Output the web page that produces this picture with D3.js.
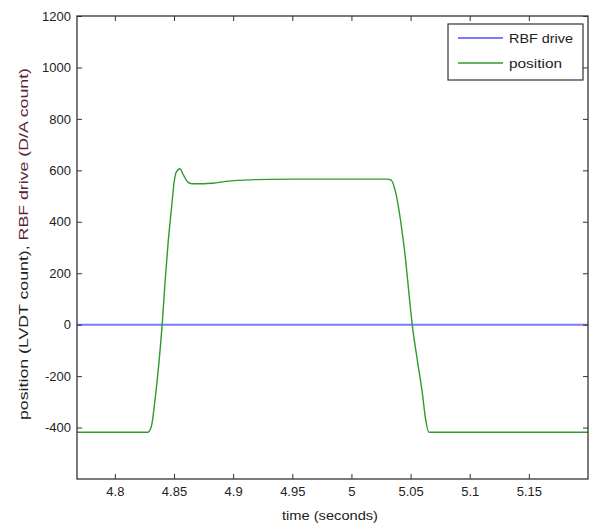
<!DOCTYPE html>
<html>
<head>
<meta charset="utf-8">
<script src="https://cdn.jsdelivr.net/npm/d3@7"></script>
<style>
  body { margin: 0; background: #fff; }
  text { font-family: "Liberation Sans", Arial, sans-serif; fill: #222; }
</style>
</head>
<body>
<div id="chart"></div>
<script>
// RBF drive (constant)
var rbfTime = [4.768, 5.2];
var rbfValue = [0, 0];

// position
var posTime = [4.768, 4.828, 4.831, 4.834, 4.837, 4.840, 4.8424, 4.845, 4.848, 4.850, 4.852, 4.855,
               4.858, 4.862, 4.865, 4.875, 4.883, 4.900, 4.931, 4.97, 5.03, 5.0336, 5.0373, 5.0415,
               5.0458, 5.0486, 5.0514, 5.0556, 5.0599, 5.0627, 5.0655, 5.2];
var posValue = [-418, -418, -393, -290, -161, 0, 162, 317, 458, 550, 594, 606,
                581, 553, 548, 548, 550, 560, 565, 566, 566, 562, 516, 406,
                252, 123, 0, -135, -264, -368, -418, -418];

var xTicks = [4.8, 4.85, 4.9, 4.95, 5, 5.05, 5.1, 5.15];
var yTicks = [-400, -200, 0, 200, 400, 600, 800, 1000, 1200];

var W = 594, H = 528;
var m = {left: 77, right: 6, top: 16, bottom: 49};

var svg = d3.select('#chart').append('svg')
    .attr('width', W)
    .attr('height', H);

var x = d3.scaleLinear().domain([4.768, 5.2]).range([m.left, W - m.right]);
var y = d3.scaleLinear().domain([-600, 1200]).range([H - m.bottom, m.top]);

svg.append('clipPath').attr('id', 'clip')
    .append('rect')
    .attr('x', m.left).attr('y', m.top)
    .attr('width', W - m.left - m.right)
    .attr('height', H - m.top - m.bottom);

var line = d3.line()
    .x(function (d) { return x(d[0]); })
    .y(function (d) { return y(d[1]); });

var plot = svg.append('g').attr('clip-path', 'url(#clip)');

plot.append('path')
    .datum(d3.zip(rbfTime, rbfValue))
    .attr('d', line)
    .attr('fill', 'none')
    .attr('stroke', '#7a7aff')
    .attr('stroke-width', 2);

plot.append('path')
    .datum(d3.zip(posTime, posValue))
    .attr('d', line.curve(d3.curveMonotoneX))
    .attr('fill', 'none')
    .attr('stroke', '#2e9a2e')
    .attr('stroke-width', 1.4);

// axes, ticks inward and mirrored like matlab
var axisStyle = function (g) {
    g.select('.domain').remove();
    g.selectAll('line').attr('stroke', '#333');
    g.selectAll('text').attr('font-size', 13).attr('fill', '#222')
        .attr('font-family', '"Liberation Sans", Arial, sans-serif');
};

svg.append('g')
    .attr('transform', 'translate(0,' + (H - m.bottom) + ')')
    .call(d3.axisBottom(x).tickValues(xTicks).tickSizeInner(-5).tickSizeOuter(0).tickPadding(8)
        .tickFormat(function (d) { return String(+d.toFixed(2)); }))
    .call(axisStyle);

svg.append('g')
    .attr('transform', 'translate(0,' + m.top + ')')
    .call(d3.axisTop(x).tickValues(xTicks).tickSizeInner(-5).tickSizeOuter(0).tickFormat(''))
    .call(axisStyle);

svg.append('g')
    .attr('transform', 'translate(' + m.left + ',0)')
    .call(d3.axisLeft(y).tickValues(yTicks).tickSizeInner(-5).tickSizeOuter(0).tickPadding(6)
        .tickFormat(function (d) { return String(d); }))
    .call(axisStyle);

svg.append('g')
    .attr('transform', 'translate(' + (W - m.right) + ',0)')
    .call(d3.axisRight(y).tickValues(yTicks).tickSizeInner(-5).tickSizeOuter(0).tickFormat(''))
    .call(axisStyle);

// frame
svg.append('rect')
    .attr('x', m.left).attr('y', m.top)
    .attr('width', W - m.left - m.right)
    .attr('height', H - m.top - m.bottom)
    .attr('fill', 'none')
    .attr('stroke', '#333')
    .attr('stroke-width', 1.3);

// axis titles
svg.append('text')
    .attr('x', 330)
    .attr('y', H - 8)
    .attr('text-anchor', 'middle')
    .attr('font-size', 13)
    .attr('textLength', 96)
    .attr('lengthAdjust', 'spacingAndGlyphs')
    .text('time (seconds)');

var yl = svg.append('text')
    .attr('transform', 'translate(28,244) rotate(-90)')
    .attr('text-anchor', 'middle')
    .attr('font-size', 13)
    .attr('textLength', 352)
    .attr('lengthAdjust', 'spacingAndGlyphs');
yl.append('tspan').text('position (LVDT count), ');
yl.append('tspan').attr('fill', '#5a2433').text('RBF drive (D/A count)');

// legend
var lg = svg.append('g').attr('transform', 'translate(448,24)');
lg.append('rect')
    .attr('width', 135).attr('height', 56)
    .attr('fill', '#fff')
    .attr('stroke', '#333')
    .attr('stroke-width', 1.2);

var legendItems = [
    {name: 'RBF drive', color: '#7a7aff', w: 2, len: 64},
    {name: 'position', color: '#2e9a2e', w: 1.4, len: 53}
];
legendItems.forEach(function (d, i) {
    var yy = 14 + i * 25;
    lg.append('line')
        .attr('x1', 10).attr('x2', 55)
        .attr('y1', yy).attr('y2', yy)
        .attr('stroke', d.color)
        .attr('stroke-width', d.w);
    lg.append('text')
        .attr('x', 61).attr('y', yy + 5)
        .attr('font-size', 13)
        .attr('textLength', d.len)
        .attr('lengthAdjust', 'spacingAndGlyphs')
        .text(d.name);
});
</script>
</body>
</html>
